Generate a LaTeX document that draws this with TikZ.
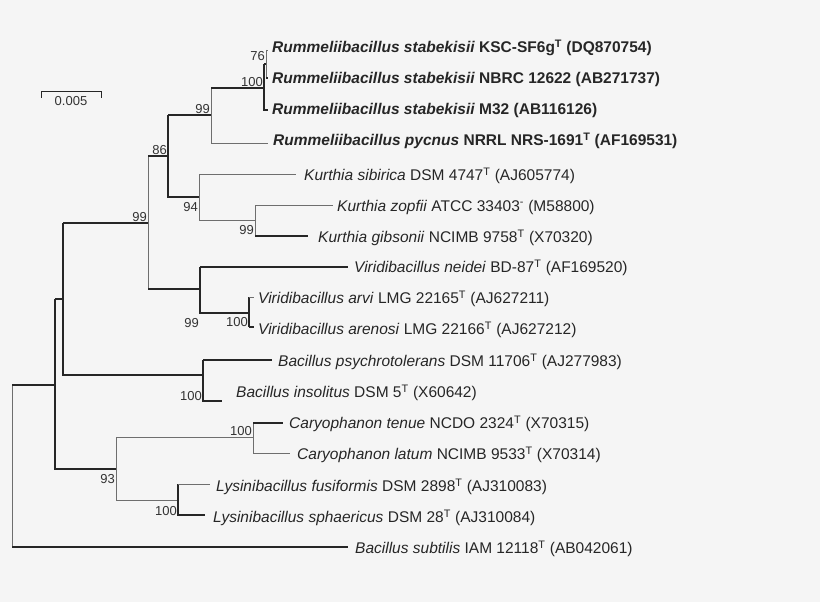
\documentclass[tikz,border=0pt]{standalone}
\usepackage{fontspec}
\setmainfont{Liberation Sans}
\usepackage{tikz}
\usetikzlibrary{positioning, calc}
\definecolor{bggray}{RGB}{245,245,245}
\definecolor{thingray}{RGB}{110,110,110}
\newcommand{\sT}{\textsuperscript{T}}

\begin{document}
\begin{tikzpicture}[x=1pt, y=-1pt,
    br/.style={line width=1.3pt, black!85},
    thn/.style={line width=0.7pt, thingray},
    taxon/.style={anchor=west, inner sep=0pt, font=\fontsize{15.5}{17}\selectfont, text=black!85},
    boot/.style={inner sep=1pt, font=\fontsize{13}{14}\selectfont, text=black!80}
]
    \fill[bggray] (0,0) rectangle (820,602);
    \useasboundingbox (0,0) rectangle (820,602);
    % branch points
    \coordinate (r) at (12,385);
    \coordinate (n55) at (55,385);
    \coordinate (n63) at (63,299);
    \coordinate (n148) at (148,223);
    \coordinate (n168) at (168,156);
    \coordinate (n211) at (211,115);
    \coordinate (n264) at (264,88);
    \coordinate (n266) at (266,64);
    \coordinate (n199) at (199,197);
    \coordinate (n255) at (255,220);
    \coordinate (n200) at (200,289);
    \coordinate (n249) at (249,313);
    \coordinate (n203) at (203,375);
    \coordinate (n116) at (116,469);
    \coordinate (n253) at (253,437);
    \coordinate (n178) at (178,500);
    % taxa
    \node[taxon] (ksc) at (272,48) {\textbf{\textit{Rummeliibacillus stabekisii} KSC-SF6g\sT\ (DQ870754)}};
    \node[taxon] (nbrc) at (272,79) {\textbf{\textit{Rummeliibacillus stabekisii} NBRC 12622 (AB271737)}};
    \node[taxon] (m32) at (272,110) {\textbf{\textit{Rummeliibacillus stabekisii} M32 (AB116126)}};
    \node[taxon] (pyc) at (273,141) {\textbf{\textit{Rummeliibacillus pycnus} NRRL NRS-1691\sT\ (AF169531)}};
    \node[taxon] (sib) at (304,176) {\textit{Kurthia sibirica} DSM 4747\sT\ (AJ605774)};
    \node[taxon] (zop) at (337,207) {\textit{Kurthia zopfii} ATCC 33403\textsuperscript{-} (M58800)};
    \node[taxon] (gib) at (318,238) {\textit{Kurthia gibsonii} NCIMB 9758\sT\ (X70320)};
    \node[taxon] (nei) at (354,268) {\textit{Viridibacillus neidei} BD-87\sT\ (AF169520)};
    \node[taxon] (arv) at (258,299) {\textit{Viridibacillus arvi} LMG 22165\sT\ (AJ627211)};
    \node[taxon] (are) at (258,330) {\textit{Viridibacillus arenosi} LMG 22166\sT\ (AJ627212)};
    \node[taxon] (psy) at (278,362) {\textit{Bacillus psychrotolerans} DSM 11706\sT\ (AJ277983)};
    \node[taxon] (ins) at (236,393) {\textit{Bacillus insolitus} DSM 5\sT\ (X60642)};
    \node[taxon] (ten) at (289,424) {\textit{Caryophanon tenue} NCDO 2324\sT\ (X70315)};
    \node[taxon] (lat) at (297,455) {\textit{Caryophanon latum} NCIMB 9533\sT\ (X70314)};
    \node[taxon] (fus) at (216,487) {\textit{Lysinibacillus fusiformis} DSM 2898\sT\ (AJ310083)};
    \node[taxon] (sph) at (213,518) {\textit{Lysinibacillus sphaericus} DSM 28\sT\ (AJ310084)};
    \node[taxon] (sub) at (355,549) {\textit{Bacillus subtilis} IAM 12118\sT\ (AB042061)};
    % tree
    \draw[thn] (r) -- (12,547);
    \draw[br] (r) -- (n55);
    \draw[br] (55,299) -- (55,469) -- (n116);
    \draw[br] (55,299) -- (n63);
    \draw[br] (63,223) -- (63,375) -- (n203);
    \draw[br] (63,223) -- (n148);
    \draw[thn] (148,156) -- (148,289);
    \draw[br] (148,156) -- (n168);
    \draw[br] (148,289) -- (n200);
    \draw[br] (168,115) -- (168,197) -- (n199);
    \draw[br] (168,115) -- (n211);
    \draw[thn] (211,88) -- (211,143) -- (268,143);
    \draw[br] (211,88) -- (n264);
    \draw[br] (264,64) -- (264,110) -- (268,110);
    \draw[br] (264,64) -- (n266);
    \draw[thn] (266,50) -- (266,78);
    \draw[thn] (266,50) -- (268,50);
    \draw[br] (266,78) -- (268,78);
    \draw[thn] (199,174) -- (199,220) -- (n255);
    \draw[thn] (199,174) -- (296,174);
    \draw[thn] (255,205) -- (255,236);
    \draw[thn] (255,205) -- (333,205);
    \draw[br] (255,236) -- (308,236);
    \draw[br] (200,267) -- (200,313) -- (n249);
    \draw[br] (200,267) -- (348,267);
    \draw[br] (249,297) -- (249,327);
    \draw[thn] (249,297) -- (254,297);
    \draw[br] (249,327) -- (254,327);
    \draw[br] (203,360) -- (203,401) -- (222,401);
    \draw[br] (203,360) -- (272,360);
    \draw[thn] (116,437) -- (116,500) -- (n178);
    \draw[thn] (116,437) -- (n253);
    \draw[thn] (253,423) -- (253,453) -- (290,453);
    \draw[br] (253,423) -- (283,423);
    \draw[br] (178,484) -- (178,515) -- (205,515);
    \draw[thn] (178,484) -- (210,484);
    \draw[br] (12,547) -- (348,547);
    % bootstrap values
    \node[boot, anchor=south east] at (266,62) {76};
    \node[boot, anchor=south east] at (n264) {100};
    \node[boot, anchor=south east] at (n211) {99};
    \node[boot, anchor=south east] at (n168) {86};
    \node[boot, anchor=north east] at (199,201) {94};
    \node[boot, anchor=north east] at (255,224) {99};
    \node[boot, anchor=south east] at (n148) {99};
    \node[boot, anchor=north east] at (200,317) {99};
    \node[boot, anchor=north east] at (249,316) {100};
    \node[boot, anchor=north east] at (203,390) {100};
    \node[boot, anchor=south east] at (n253) {100};
    \node[boot, anchor=north east] at (116,473) {93};
    \node[boot, anchor=north east] at (178,505) {100};
    % scale bar
    \coordinate (sb1) at (41,92);
    \coordinate (sb2) at (101,92);
    \coordinate (sbm) at (71,92);
    \draw[br, line width=1pt] ($(sb1)+(0,6)$) -- (sb1) -- (sb2) -- ($(sb2)+(0,6)$);
    \node[boot, below=3pt of sbm] (scale) {0.005};
\end{tikzpicture}
\end{document}
